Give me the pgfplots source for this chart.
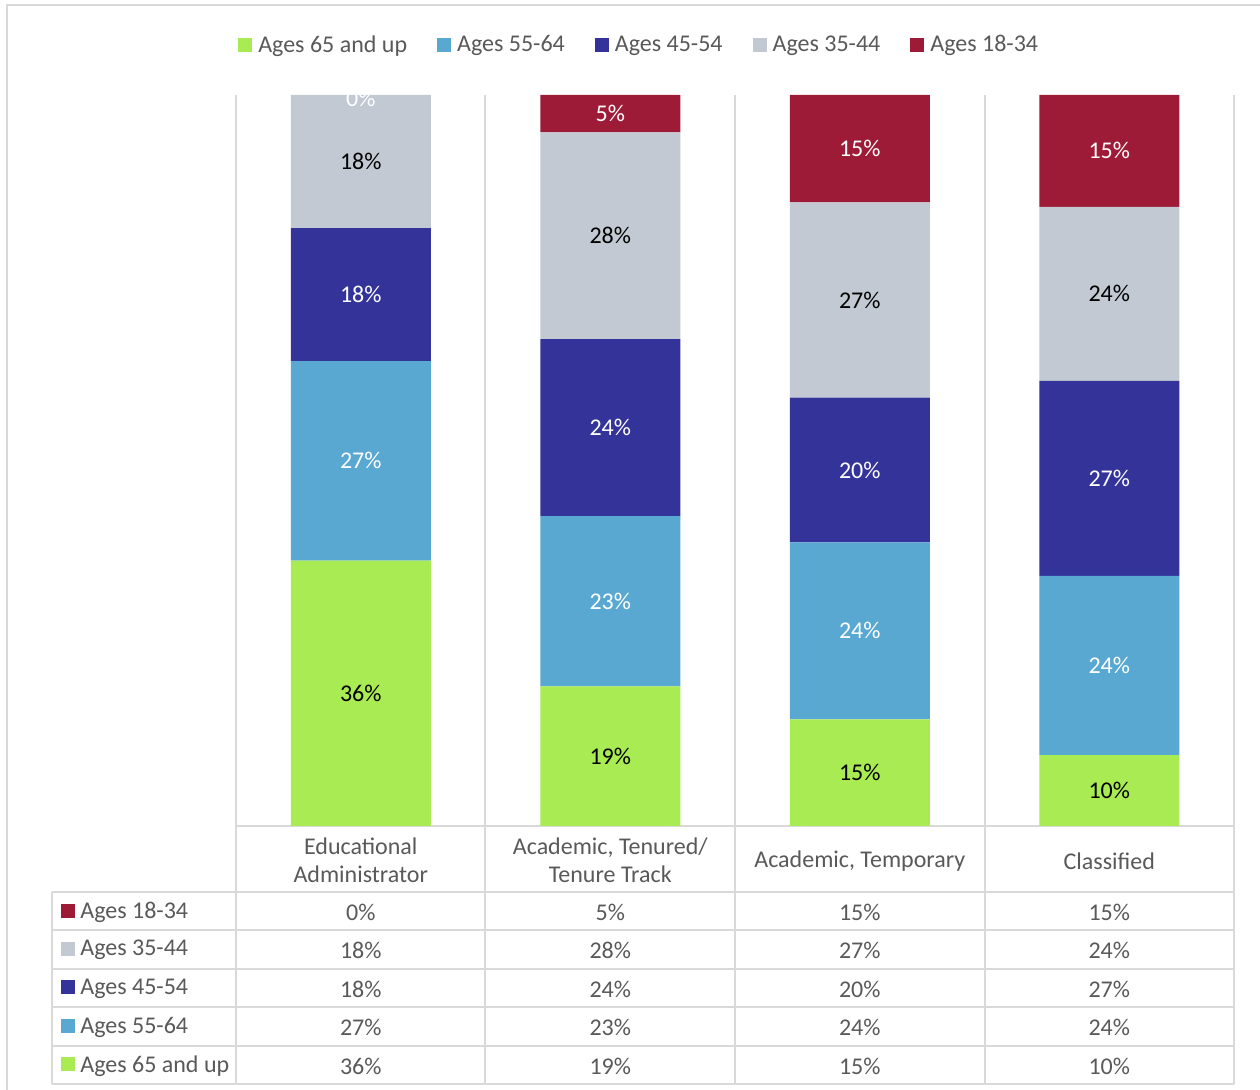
\documentclass[border=0pt]{standalone}
\usepackage{pgfplots}
\pgfplotsset{compat=1.18}
\usepackage{fontspec}
\setmainfont{Carlito}

\definecolor{cgreen}{RGB}{169,235,82}
\definecolor{clblue}{RGB}{89,168,209}
\definecolor{cdblue}{RGB}{51,51,153}
\definecolor{cgray}{RGB}{194,201,211}
\definecolor{cred}{RGB}{158,27,55}
\definecolor{txt}{RGB}{89,89,89}
\definecolor{rule}{RGB}{217,217,217}

\newcommand{\chartfont}{\fontsize{12}{14}\selectfont}

\begin{document}
\begin{tikzpicture}
\path[use as bounding box] (0,0) rectangle (630pt,-545pt);

% frame, separators and table rules (pixel coordinates of the reference)
\begin{scope}[x=0.5pt,y=-0.5pt]
  \draw[rule, line width=1pt] (7,5) rectangle (1290,1120);
  \foreach \x in {236,485,735,985,1234}
    \draw[rule, line width=1pt] (\x,95) -- (\x,1084);
  \draw[rule, line width=1pt] (236,826) -- (1234,826);
  \foreach \y in {892,930,969,1007,1046,1084}
    \draw[rule, line width=1pt] (52,\y) -- (1234,\y);
  \draw[rule, line width=1pt] (52,892) -- (52,1084);
\end{scope}

\begin{axis}[
  at={(118pt,-413pt)}, anchor=south west,
  scale only axis, width=499pt, height=365.5pt,
  ybar stacked, bar width=70pt,
  xmin=-0.5, xmax=3.5, ymin=0, ymax=100,
  hide axis,
  legend style={at={(0.405,1.068)}, anchor=center, draw=none, fill=none,
    legend columns=-1, font=\chartfont, text=txt,
    /tikz/every even column/.append style={column sep=13pt},
    /tikz/every odd column/.append style={column sep=1pt}},
  legend image code/.code={\fill[#1] (0pt,-3.5pt) rectangle (7pt,3.5pt);},
]
\addplot[fill=cgreen, draw=none] coordinates {(0,36.3) (1,19.1) (2,14.6) (3,9.7)};
\addlegendentry{Ages 65 and up}
\addplot[fill=clblue, draw=none] coordinates {(0,27.3) (1,23.3) (2,24.2) (3,24.5)};
\addlegendentry{Ages 55-64}
\addplot[fill=cdblue, draw=none] coordinates {(0,18.2) (1,24.2) (2,19.8) (3,26.7)};
\addlegendentry{Ages 45-54}
\addplot[fill=cgray, draw=none] coordinates {(0,18.2) (1,28.3) (2,26.7) (3,23.8)};
\addlegendentry{Ages 35-44}
\addplot[fill=cred, draw=none] coordinates {(0,0) (1,5.1) (2,14.7) (3,15.3)};
\addlegendentry{Ages 18-34}
\end{axis}

% data labels at the middle of each segment
\begin{axis}[
  at={(118pt,-413pt)}, anchor=south west,
  scale only axis, width=499pt, height=365.5pt,
  xmin=-0.5, xmax=3.5, ymin=0, ymax=100,
  hide axis,
]
\addplot[draw=none, nodes near coords, point meta=explicit symbolic,
  every node near coord/.style={anchor=center, font=\chartfont, text=black}]
  coordinates {
    (0,18.15) [36\%] (1,9.55) [19\%] (2,7.3) [15\%] (3,4.85) [10\%]
    (0,90.9) [18\%] (1,80.75) [28\%] (2,71.95) [27\%] (3,72.8) [24\%]
  };
\addplot[draw=none, nodes near coords, point meta=explicit symbolic,
  every node near coord/.style={anchor=center, font=\chartfont, text=white}]
  coordinates {
    (0,49.95) [27\%] (1,30.75) [23\%] (2,26.7) [24\%] (3,21.95) [24\%]
    (0,72.7) [18\%] (1,54.5) [24\%] (2,48.7) [20\%] (3,47.55) [27\%]
    (0,99.6) [0\%] (1,97.45) [5\%] (2,92.65) [15\%] (3,92.35) [15\%]
  };
\end{axis}

% data table text
\begin{scope}[x=0.5pt,y=-0.5pt, every node/.style={font=\chartfont, text=txt, inner sep=0pt}]
  \node[align=center] at (360.75,860) {Educational\\Administrator};
  \node[align=center] at (610.25,860) {Academic, Tenured/\\Tenure Track};
  \node at (859.75,861) {Academic, Temporary};
  \node at (1109.25,861) {Classified};

  \fill[cred]   (61,904) rectangle (75,918);
  \fill[cgray]  (61,942) rectangle (75,956);
  \fill[cdblue] (61,980) rectangle (75,994);
  \fill[clblue] (61,1019) rectangle (75,1033);
  \fill[cgreen] (61,1057) rectangle (75,1071);
  \node[anchor=west] at (80,912) {Ages 18-34};
  \node[anchor=west] at (80,950) {Ages 35-44};
  \node[anchor=west] at (80,989) {Ages 45-54};
  \node[anchor=west] at (80,1027) {Ages 55-64};
  \node[anchor=west] at (80,1066) {Ages 65 and up};

  \foreach \x/\a/\b/\c/\d/\e in {360.75/0/18/18/27/36, 610.25/5/28/24/23/19,
      859.75/15/27/20/24/15, 1109.25/15/24/27/24/10} {
    \node at (\x,912) {\a\%};
    \node at (\x,950) {\b\%};
    \node at (\x,989) {\c\%};
    \node at (\x,1027) {\d\%};
    \node at (\x,1066) {\e\%};
  }
\end{scope}
\end{tikzpicture}
\end{document}
